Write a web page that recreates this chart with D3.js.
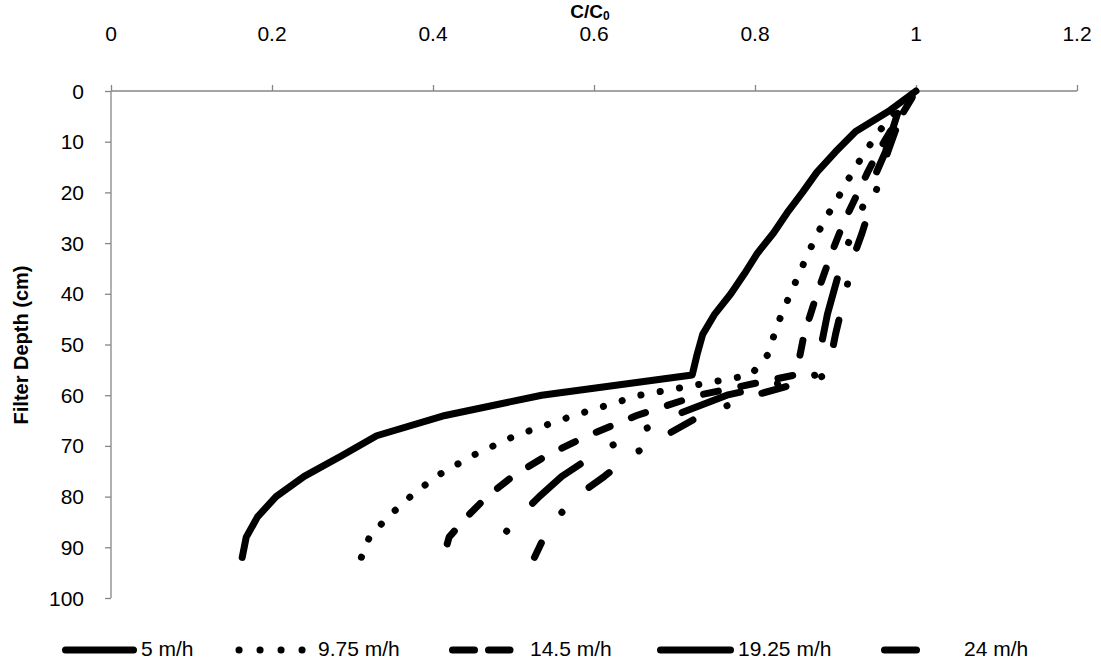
<!DOCTYPE html>
<html><head><meta charset="utf-8">
<script src="https://cdn.jsdelivr.net/npm/d3@7"></script>
<style>
body{margin:0;background:#fff}
svg{display:block}
text{font-family:"Liberation Sans",Arial,sans-serif;fill:#000}
</style>
</head><body>
<svg id="c" width="1101" height="662"></svg>
<script>
// ---- data ----
const depths = [0,4,8,12,16,20,24,28,32,36,40,44,48,52,56,60,64,68,72,76,80,84,88,92];
const xTicks = [0,0.2,0.4,0.6,0.8,1,1.2];
const yTicks = [0,10,20,30,40,50,60,70,80,90,100];
const seriesNames = ["5 m/h","9.75 m/h","14.5 m/h","19.25 m/h","24 m/h"];
const s5    = [1.0,0.966,0.925,0.9,0.877,0.859,0.84,0.823,0.803,0.787,0.77,0.75,0.735,0.728,0.722,0.535,0.415,0.33,0.286,0.24,0.205,0.182,0.168,0.163];
const s975  = [1.0,0.975,0.954,0.937,0.921,0.907,0.892,0.878,0.866,0.855,0.844,0.833,0.824,0.816,0.795,0.657,0.575,0.502,0.448,0.404,0.372,0.344,0.321,0.311];
const s145  = [1.0,0.985,0.968,0.953,0.94,0.928,0.916,0.905,0.895,0.886,0.877,0.869,0.861,0.856,0.85,0.73,0.653,0.592,0.54,0.499,0.467,0.442,0.42,0.413];
const s1925 = [1.0,0.978,0.97,0.962,0.951,0.941,0.931,0.921,0.911,0.904,0.897,0.89,0.885,0.88,0.876,0.765,0.7,0.645,0.598,0.56,0.532,0.507,0.485,null];
const s24   = [1.0,0.985,0.974,0.965,0.957,0.95,0.941,0.933,0.924,0.918,0.912,0.906,0.9,0.895,0.89,0.8,0.733,0.688,0.645,0.613,0.578,0.555,0.538,0.526];
const seriesValues = [s5,s975,s145,s1925,s24];

// ---- styles ----
const LW = 7;
const chartDash = [null, [0.1,19.5], [15,23], [62,38,0.1,38,0.1,38], [25,37,0.1,37]];
// where a chosen pattern position (anchor) should fall, measured back from the path end
const phaseAnchor = [0, 0, 15, 100, 0];
const phaseBack   = [0, 0.3, 14, 8, 16];
const legendDash = [null, "0.1,20.9", "22,14", null, null];
const legendX = [[65.5,133.5],[239,303],[452.5,510],[660.5,730.5],[884.5,916.5]];
const legendTextX = [141,318,530,738,964];

const svg = d3.select("#c");
const x = d3.scaleLinear().domain([0,1.2]).range([111,1077]);
const y = d3.scaleLinear().domain([0,100]).range([91,598]);
const axisColor = "#868686";

// top x axis
const gx = svg.append("g").attr("transform","translate(0,91)")
  .call(d3.axisTop(x).tickValues(xTicks).tickSize(6).tickFormat(""));
gx.select(".domain").attr("stroke",axisColor).attr("stroke-width",1.3).attr("d","M"+x(0)+",0H"+x(1.2));
gx.selectAll(".tick line").attr("stroke",axisColor).attr("stroke-width",1.3);
svg.append("g").selectAll("text").data(xTicks).join("text")
  .attr("x",d=>x(d)).attr("y",41).attr("text-anchor","middle")
  .style("font-size","21px").text(d=>String(d));

// left y axis
const gy = svg.append("g").attr("transform","translate(111,0)")
  .call(d3.axisLeft(y).tickValues(yTicks).tickSize(6).tickFormat(""));
gy.select(".domain").attr("stroke",axisColor).attr("stroke-width",1.3).attr("d","M0,"+y(0)+"V"+y(100));
gy.selectAll(".tick line").attr("stroke",axisColor).attr("stroke-width",1.3);
svg.append("g").selectAll("text").data(yTicks).join("text")
  .attr("x",84).attr("y",d=>y(d)).attr("dy","0.36em").attr("text-anchor","end")
  .style("font-size","21px").text(d=>String(d));

// titles
const t = svg.append("text").attr("x",590).attr("y",18).attr("text-anchor","middle")
  .style("font-size","19px").style("font-weight","bold");
t.append("tspan").text("C/C");
t.append("tspan").attr("dy",2).style("font-size","12px").text("0");
svg.append("text").attr("transform","translate(28,345) rotate(-90)").attr("text-anchor","middle")
  .style("font-size","20px").style("font-weight","bold").text("Filter Depth (cm)");

// series
const line = d3.line().defined(d=>d[1]!=null).x(d=>x(d[1])).y(d=>y(d[0]));
const mod = (a,p)=>((a%p)+p)%p;
seriesValues.forEach((vals,i)=>{
  const pts = depths.map((d,j)=>[d,vals[j]]);
  const p = svg.append("path").datum(pts).attr("d",line)
    .attr("fill","none").attr("stroke","#000").attr("stroke-width",LW)
    .attr("stroke-linecap","round").attr("stroke-linejoin","round");
  if(chartDash[i]){
    const P = d3.sum(chartDash[i]);
    const L = p.node().getTotalLength();
    const off = mod(phaseAnchor[i] - (L - phaseBack[i]), P);
    p.attr("stroke-dasharray",chartDash[i].join(",")).attr("stroke-dashoffset",off);
  }
});

// legend
const ly = 648;
seriesNames.forEach((name,i)=>{
  svg.append("line").attr("x1",legendX[i][0]).attr("x2",legendX[i][1]).attr("y1",ly+2).attr("y2",ly+2)
    .attr("stroke","#000").attr("stroke-width",LW).attr("stroke-linecap","round")
    .attr("stroke-dasharray",legendDash[i]);
  svg.append("text").attr("x",legendTextX[i]).attr("y",ly).attr("dy","0.36em")
    .style("font-size","21px").text(name);
});
</script>
</body></html>
